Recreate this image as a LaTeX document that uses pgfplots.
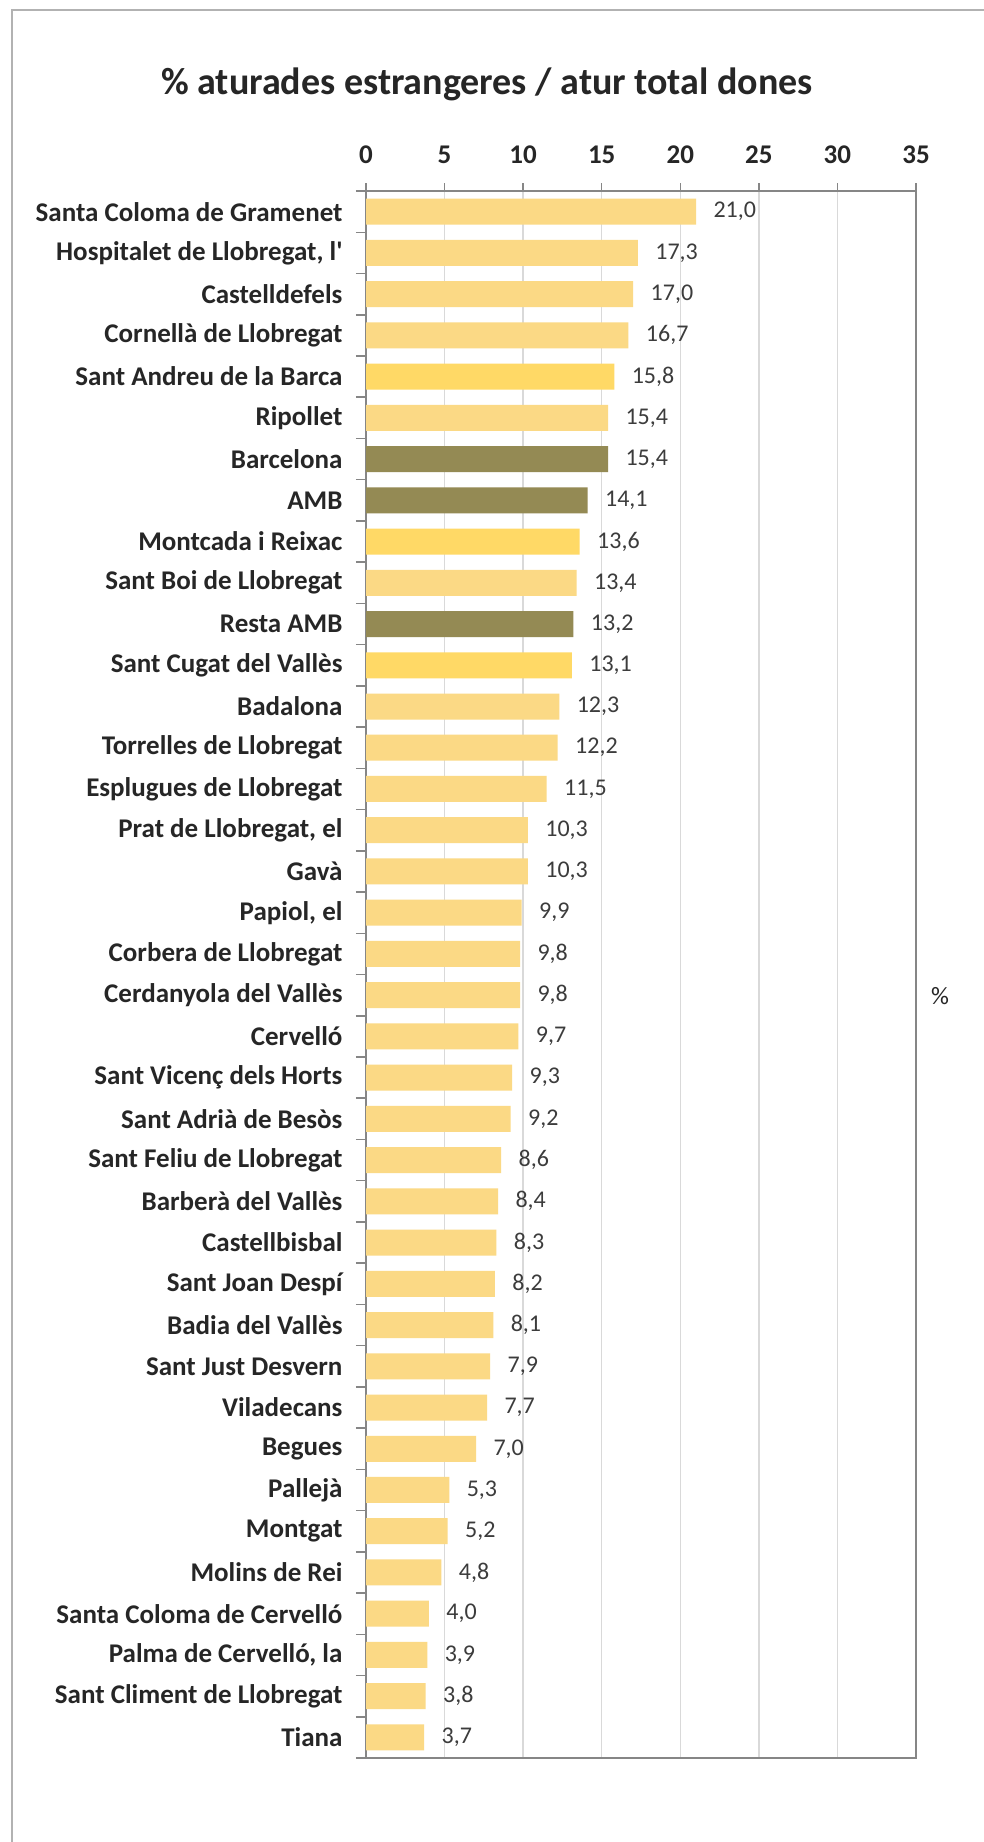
\documentclass[border=0pt]{standalone}
\usepackage{pgfplots}
\pgfplotsset{compat=1.18}
\usepackage{fontspec}
\setmainfont{Carlito}
\definecolor{barLight}{HTML}{FBD985}
\definecolor{barGold}{HTML}{FFD966}
\definecolor{barOlive}{HTML}{948A54}
\definecolor{gridGray}{HTML}{D9D9D9}
\definecolor{axisGray}{HTML}{868686}
\definecolor{txt}{HTML}{262626}

\begin{document}
\begin{tikzpicture}
\fill[white] (0,0) rectangle (983pt,1842pt);
\useasboundingbox (0,0) rectangle (983pt,1842pt);
% chart frame (cropped on the right and at the bottom)
\draw[color=gray!60, line width=1.5pt] (12pt,-5pt) -- (12pt,1832pt) -- (990pt,1832pt);
\node[font=\fontsize{38}{44}\selectfont\bfseries, text=txt] at (487pt,1758pt) {\% aturades estrangeres / atur total dones};

\begin{axis}[
    at={(366pt,84pt)}, anchor=south west,
    scale only axis,
    width=550pt, height=1567pt,
    xbar, bar width=26pt, bar shift=0pt,
    xmin=0, xmax=35,
    ymin=-0.5, ymax=37.5,
    y dir=reverse,
    xtick={0,5,...,35},
    xtick pos=upper, xticklabel pos=upper,
    ytick={0,...,37},
    ytick pos=left,
    minor ytick={-0.5,0.5,...,37.5},
    yticklabels={{Santa Coloma de Gramenet},{Hospitalet de Llobregat, l\textquotesingle},{Castelldefels},{Cornellà de Llobregat},{Sant Andreu de la Barca},{Ripollet},{Barcelona},{AMB},{Montcada i Reixac},{Sant Boi de Llobregat},{Resta AMB},{Sant Cugat del Vallès},{Badalona},{Torrelles de Llobregat},{Esplugues de Llobregat},{Prat de Llobregat, el},{Gavà},{Papiol, el},{Corbera de Llobregat},{Cerdanyola del Vallès},{Cervelló},{Sant Vicenç dels Horts},{Sant Adrià de Besòs},{Sant Feliu de Llobregat},{Barberà del Vallès},{Castellbisbal},{Sant Joan Despí},{Badia del Vallès},{Sant Just Desvern},{Viladecans},{Begues},{Pallejà},{Montgat},{Molins de Rei},{Santa Coloma de Cervelló},{Palma de Cervelló, la},{Sant Climent de Llobregat},{Tiana}},
    tick align=outside,
    major tick length=8pt, minor tick length=10pt,
    major y tick style={draw=none},
    tick style={color=axisGray, line width=1.5pt},
    axis line style={color=axisGray, line width=1.5pt},
    xmajorgrids, grid style={color=gridGray, line width=1.5pt},
    xticklabel style={font=\fontsize{27}{32}\selectfont\bfseries, text=txt, yshift=16pt},
    yticklabel style={font=\fontsize{27}{32}\selectfont\bfseries, text=txt, xshift=-12pt},
    /pgf/number format/assume math mode=true,
    nodes near coords,
    nodes near coords style={font=\fontsize{24}{28}\selectfont, text=txt!90, anchor=west, xshift=14pt,
        /pgf/number format/.cd, fixed, zerofill, precision=1, use comma, assume math mode=true},
    clip=false,
]
% light bars
\addplot[fill=barLight, draw=none] coordinates {
 (21.0,0) (17.3,1) (17.0,2) (16.7,3) (15.4,5) (13.4,9)
 (12.3,12) (12.2,13) (11.5,14) (10.3,15) (10.3,16) (9.9,17) (9.8,18) (9.8,19)
 (9.7,20) (9.3,21) (9.2,22) (8.6,23) (8.4,24) (8.3,25) (8.2,26) (8.1,27)
 (7.9,28) (7.7,29) (7.0,30) (5.3,31) (5.2,32) (4.8,33) (4.0,34) (3.9,35)
 (3.8,36) (3.7,37)
};
% gold bars
\addplot[fill=barGold, draw=none] coordinates {
 (15.8,4) (13.6,8) (13.1,11)
};
% olive bars (aggregates)
\addplot[fill=barOlive, draw=none] coordinates {
 (15.4,6) (14.1,7) (13.2,10)
};
\end{axis}
\node[font=\fontsize{25}{30}\selectfont, text=txt] at (940pt,846pt) {\%};
\end{tikzpicture}
\end{document}
